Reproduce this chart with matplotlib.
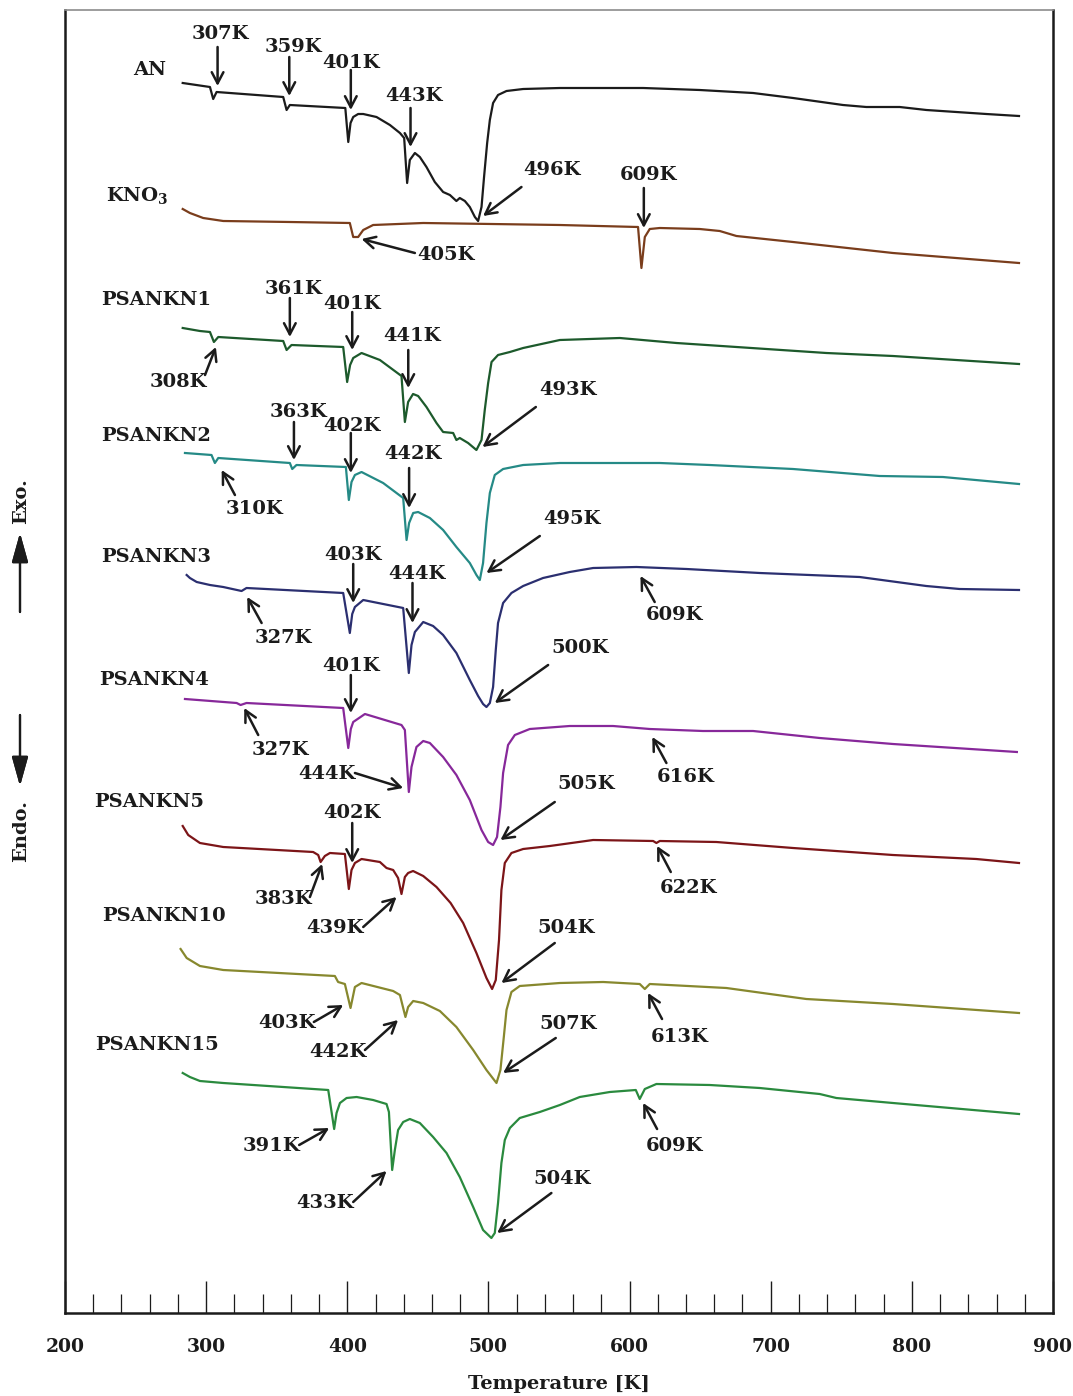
import matplotlib
matplotlib.use("Agg")
import matplotlib.pyplot as plt
from matplotlib.ticker import MultipleLocator

plt.rcParams["font.family"] = "DejaVu Serif"
plt.rcParams["mathtext.fontset"] = "dejavuserif"

# DSC traces: temperature [K] and heat flow (arb. units, curves stacked, exo up)
an_T = [283.4, 302.7, 305.0, 307.4, 354.6, 357.0, 359.3, 398.6, 400.7, 402.3, 404.2,
        407.7, 411.3, 420.7, 430.2, 437.3, 440.3, 442.4, 444.3, 447.9, 451.4, 456.1,
        462.0, 467.9, 472.7, 477.3, 479.7, 483.3, 486.8, 490.4, 492.7, 495.1, 496.9,
        499.1, 501.0, 503.3, 506.8, 512.8, 524.6, 550.6, 609.6, 649.7, 687.5, 715.8,
        751.2, 767.7, 791.4, 810.3, 852.7, 875.9]
an_hf = [1230, 1226, 1214, 1221, 1216, 1203, 1208, 1205, 1171, 1190, 1196,
         1199, 1199, 1196, 1188, 1180, 1175, 1130, 1153, 1160, 1156, 1146,
         1131, 1121, 1118, 1112, 1115, 1112, 1106, 1096, 1092, 1106, 1136,
         1170, 1193, 1210, 1218, 1222, 1224, 1225, 1225, 1223, 1220, 1215,
         1208, 1206, 1206, 1203, 1199, 1197]

kno3_T = [283.4, 288.5, 297.9, 312.1, 359.3, 401.8, 404.2, 407.7, 411.3, 418.3, 453.8,
          550.6, 606.0, 608.4, 610.8, 614.3, 621.4, 649.7, 663.9, 675.7, 715.8, 786.6,
          875.9]
kno3_hf = [1104, 1100, 1095, 1092, 1091, 1090, 1076, 1076, 1083, 1088, 1090,
           1088, 1086, 1045, 1076, 1084, 1085, 1084, 1082, 1077, 1071, 1060,
           1050]

kn1_T = [283.4, 295.6, 302.7, 305.5, 308.6, 354.6, 357.0, 360.5, 397.1, 399.9, 402.0,
         404.2, 410.1, 423.1, 438.4, 440.8, 443.1, 446.6, 450.2, 456.1, 463.2, 467.9,
         475.0, 477.3, 479.7, 485.6, 491.5, 495.1, 497.4, 499.8, 502.2, 506.8, 515.2,
         524.6, 550.6, 593.1, 633.2, 739.4, 786.6, 875.9]
kn1_hf = [985, 982, 981, 971, 976, 972, 963, 968, 966, 931, 948,
          955, 960, 953, 937, 891, 911, 919, 917, 906, 890, 881,
          880, 873, 875, 870, 863, 873, 903, 930, 951, 958, 961,
          965, 973, 975, 970, 960, 957, 949]

kn2_T = [285.0, 303.8, 306.2, 308.6, 359.3, 361.0, 364.0, 399.0, 401.1, 403.0, 405.4,
         410.1, 425.4, 439.6, 442.0, 443.8, 446.7, 450.2, 458.5, 467.9, 477.3, 486.8,
         491.5, 493.9, 496.2, 498.6, 501.0, 504.5, 510.4, 524.6, 550.6, 621.4, 656.8,
         715.8, 777.2, 822.0, 875.9]
kn2_hf = [860, 858, 850, 855, 850, 844, 848, 846, 813, 831, 838,
          841, 830, 815, 773, 790, 800, 801, 795, 783, 766, 750,
          738, 733, 750, 790, 820, 838, 844, 848, 850, 850, 848,
          844, 837, 836, 829]

kn3_T = [286.2, 288.5, 293.3, 302.7, 312.1, 325.1, 328.6, 397.1, 401.8, 403.5, 405.4,
         411.3, 439.6, 443.6, 445.5, 447.9, 453.8, 460.8, 467.9, 477.3, 486.8, 492.7,
         496.2, 498.6, 501.0, 503.3, 505.2, 506.8, 510.4, 516.3, 524.6, 538.7, 557.6,
         574.2, 604.9, 640.3, 692.2, 763.0, 810.2, 833.8, 875.9]
kn3_hf = [738, 735, 731, 728, 726, 722, 725, 720, 680, 699, 706,
          713, 705, 640, 668, 681, 691, 687, 678, 660, 633, 617,
          609, 606, 610, 626, 663, 690, 710, 720, 727, 735, 741,
          745, 746, 744, 740, 736, 727, 724, 723]

kn4_T = [285.0, 321.6, 324.4, 328.6, 397.1, 400.7, 402.5, 404.2, 412.5, 438.4, 440.8,
         443.6, 445.5, 449.0, 453.8, 458.5, 467.9, 477.3, 486.8, 495.1, 499.8, 503.3,
         506.1, 508.5, 510.4, 513.9, 518.7, 529.3, 557.6, 588.3, 614.3, 652.0, 687.5,
         734.7, 786.6, 874.4]
kn4_hf = [614, 610, 608, 610, 605, 565, 584, 591, 599, 588, 583,
          521, 546, 566, 572, 570, 556, 538, 513, 483, 471, 468,
          476, 506, 540, 568, 578, 584, 587, 587, 584, 582, 582,
          575, 569, 561]

kn5_T = [283.4, 287.3, 295.6, 312.1, 375.8, 379.4, 381.1, 384.1, 387.7, 398.3, 401.1,
         403.0, 405.4, 410.1, 423.1, 427.8, 432.5, 436.0, 438.4, 440.8, 443.1, 446.6,
         453.8, 463.2, 473.2, 482.1, 491.5, 498.6, 502.6, 505.2, 507.5, 509.2, 511.6,
         516.3, 524.6, 543.5, 574.2, 616.7, 619.0, 621.4, 661.5, 715.8, 786.6, 845.6,
         875.9]
kn5_hf = [487, 478, 470, 466, 461, 458, 451, 457, 460, 459, 424,
          443, 450, 454, 451, 445, 443, 435, 419, 436, 440, 442,
          437, 426, 410, 390, 360, 335, 324, 333, 373, 423, 450,
          460, 464, 467, 473, 472, 470, 472, 471, 465, 458, 454,
          450]

kn10_T = [281.9, 286.2, 295.6, 312.1, 391.2, 393.5, 398.3, 402.3, 405.4, 410.1, 432.5,
          437.3, 441.2, 443.1, 446.7, 453.8, 465.6, 477.3, 489.2, 498.6, 505.7, 508.5,
          510.9, 512.8, 516.3, 522.2, 550.6, 581.3, 607.2, 610.8, 614.3, 668.6, 725.2,
          786.6, 875.9]
kn10_hf = [364, 355, 347, 343, 337, 331, 329, 305, 326, 330, 322,
           318, 296, 306, 312, 310, 302, 286, 263, 243, 230, 243,
           276, 303, 321, 327, 330, 331, 329, 324, 329, 325, 314,
           309, 300]

kn15_T = [283.4, 288.5, 295.6, 312.1, 386.5, 390.7, 392.4, 394.8, 399.5, 406.6, 418.3,
          427.8, 429.5, 431.8, 433.7, 436.0, 439.6, 444.3, 451.4, 460.8, 470.3, 479.7,
          489.2, 496.2, 502.1, 504.5, 506.8, 509.2, 511.6, 515.2, 522.2, 536.4, 550.6,
          564.7, 586.0, 604.4, 607.2, 610.8, 619.0, 656.8, 692.2, 734.7, 746.5, 786.6,
          875.9]
kn15_hf = [240, 236, 232, 230, 223, 184, 200, 210, 215, 216, 213,
           209, 201, 143, 163, 183, 191, 194, 190, 176, 160, 136,
           106, 83, 75, 80, 110, 150, 173, 185, 195, 201, 208,
           216, 221, 223, 214, 224, 229, 228, 225, 219, 215, 210,
           199]

sample_names = ["AN", r"KNO$_\mathbf{3}$", "PSANKN1", "PSANKN2", "PSANKN3",
                "PSANKN4", "PSANKN5", "PSANKN10", "PSANKN15"]
sample_T = [an_T, kno3_T, kn1_T, kn2_T, kn3_T, kn4_T, kn5_T, kn10_T, kn15_T]
sample_hf = [an_hf, kno3_hf, kn1_hf, kn2_hf, kn3_hf, kn4_hf, kn5_hf, kn10_hf, kn15_hf]

colors = ["#1b1b1b", "#7a3d1c", "#1d5a2c", "#258a86", "#2b2f70",
          "#87289a", "#7c1518", "#87882e", "#2a8a3e"]

# where each sample name sits (left edge T, vertical centre)
name_pos = [(248.2, 1243), (229.0, 1112), (225.5, 1013), (225.5, 877), (225.5, 756),
            (224.1, 633), (220.5, 511), (226.2, 397), (221.2, 268)]

# peak marks: label, arrow tail, arrow tip, label centre  (all T, hf)
peaks = [
    ("307K", (308.1, 1266), (308.1, 1227), (310.2, 1279)),
    ("359K", (358.9, 1256), (358.9, 1217), (361.7, 1266)),
    ("401K", (402.5, 1243), (402.5, 1203), (403.0, 1250)),
    ("443K", (444.8, 1205), (444.8, 1166), (447.4, 1217)),
    ("496K", (523.4, 1126), (496.2, 1097), (544.9, 1143)),

    ("405K", (447.9, 1060), (410.1, 1074), (469.8, 1058)),
    ("609K", (610.1, 1125), (610.1, 1085), (613.1, 1138)),

    ("308K", (299.2, 938), (306.9, 966), (280.3, 931)),
    ("361K", (359.3, 1015), (359.3, 976), (361.7, 1024)),
    ("401K", (403.5, 1001), (403.5, 963), (403.7, 1009)),
    ("441K", (443.2, 963), (443.2, 925), (446.2, 977)),
    ("493K", (533.6, 906), (495.8, 866), (556.2, 923)),

    ("310K", (320.4, 818), (311.0, 843), (334.6, 804)),
    ("363K", (362.2, 891), (362.2, 853), (365.2, 901)),
    ("402K", (402.5, 880), (402.5, 840), (403.0, 887)),
    ("442K", (443.8, 845), (443.8, 805), (446.7, 859)),
    ("495K", (536.4, 777), (498.6, 740), (559.1, 794)),

    ("327K", (339.3, 690), (329.1, 716), (354.6, 675)),
    ("403K", (404.2, 749), (404.2, 710), (404.2, 758)),
    ("444K", (446.2, 730), (446.2, 690), (449.0, 739)),
    ("500K", (542.3, 648), (504.5, 610), (564.7, 665)),
    ("609K", (617.8, 711), (607.7, 737), (631.6, 698)),

    ("327K", (336.9, 578), (327.0, 605), (352.7, 563)),
    ("401K", (402.5, 638), (402.5, 600), (403.0, 647)),
    ("444K", (405.4, 540), (439.6, 525), (385.8, 539)),
    ("505K", (547.0, 511), (508.5, 473), (569.0, 529)),
    ("616K", (626.1, 550), (616.1, 576), (639.8, 536)),

    ("383K", (373.5, 416), (382.2, 449), (354.6, 414)),
    ("402K", (403.5, 490), (403.5, 450), (403.0, 500)),
    ("439K", (411.3, 386), (434.9, 416), (391.2, 385)),
    ("504K", (547.0, 370), (509.2, 330), (554.8, 385)),
    ("622K", (629.2, 441), (619.5, 467), (642.1, 425)),

    ("403K", (376.3, 291), (397.1, 308), (357.0, 290)),
    ("442K", (412.5, 263), (436.0, 293), (393.6, 261)),
    ("507K", (547.7, 275), (510.4, 240), (556.2, 289)),
    ("613K", (623.0, 294), (613.1, 320), (635.5, 276)),

    ("391K", (365.9, 168), (387.2, 185), (346.3, 167)),
    ("433K", (404.2, 111), (427.8, 142), (384.1, 110)),
    ("504K", (544.6, 120), (506.2, 80), (552.0, 134)),
    ("609K", (619.5, 184), (609.6, 210), (632.0, 167)),
]

W, H = 1073, 1396
FS = 14
INK = "#1b1b1b"

fig = plt.figure(figsize=(W / 100, H / 100), dpi=100)
ax = fig.add_axes([65 / W, 83 / H, 988 / W, 1303 / H])

for T, hf, c in zip(sample_T, sample_hf, colors):
    ax.plot(T, hf, color=c, lw=1.6, solid_joinstyle="round")

for name, (tx, ty) in zip(sample_names, name_pos):
    va = "baseline" if "$" in name else "center"
    ax.text(tx, ty, name, fontsize=FS, fontweight="bold", ha="left", va=va, color=INK)

arrow_kw = dict(arrowstyle="->,head_length=0.8,head_width=0.42", color=INK,
                lw=1.8, shrinkA=0, shrinkB=0, mutation_scale=10)
for label, tail, tip, pos in peaks:
    ax.annotate("", xy=tip, xytext=tail, arrowprops=arrow_kw)
    ax.text(pos[0], pos[1], label, fontsize=FS, fontweight="bold",
            ha="center", va="center", color=INK)

ax.set_xlim(200, 900)
ax.set_ylim(0, 1303)
ax.set_yticks([])
ax.xaxis.set_major_locator(MultipleLocator(100))
ax.xaxis.set_minor_locator(MultipleLocator(20))
ax.tick_params(axis="x", which="major", direction="in", length=23, width=1.0,
               pad=18, labelsize=13.5, colors=INK)
ax.tick_params(axis="x", which="minor", direction="in", length=14, width=0.9,
               colors=INK)
for lbl in ax.get_xticklabels():
    lbl.set_fontweight("bold")
ax.set_xlabel("Temperature [K]", fontsize=FS, fontweight="bold", labelpad=14, color=INK)

for side in ["left", "right", "bottom"]:
    ax.spines[side].set_linewidth(1.8)
    ax.spines[side].set_color(INK)
ax.spines["top"].set_linewidth(1.2)
ax.spines["top"].set_color("#8c8c8c")

# Exo / Endo direction markers on the left
fig.text(21 / W, 1 - 501 / H, "Exo.", rotation=90, fontsize=FS, fontweight="bold",
         ha="center", va="center", color=INK)
fig.text(21 / W, 1 - 831 / H, "Endo.", rotation=90, fontsize=FS, fontweight="bold",
         ha="center", va="center", color=INK)
side_kw = dict(arrowstyle="-|>,head_length=0.9,head_width=0.25", color=INK,
               lw=1.6, shrinkA=0, shrinkB=0, mutation_scale=20)
fig.add_artist(plt.annotate("", xy=(20 / W, 1 - 533 / H), xytext=(20 / W, 1 - 612 / H),
                            xycoords="figure fraction", arrowprops=side_kw))
fig.add_artist(plt.annotate("", xy=(20 / W, 1 - 786 / H), xytext=(20 / W, 1 - 715 / H),
                            xycoords="figure fraction", arrowprops=side_kw))

fig.savefig("out.png", dpi=100)
